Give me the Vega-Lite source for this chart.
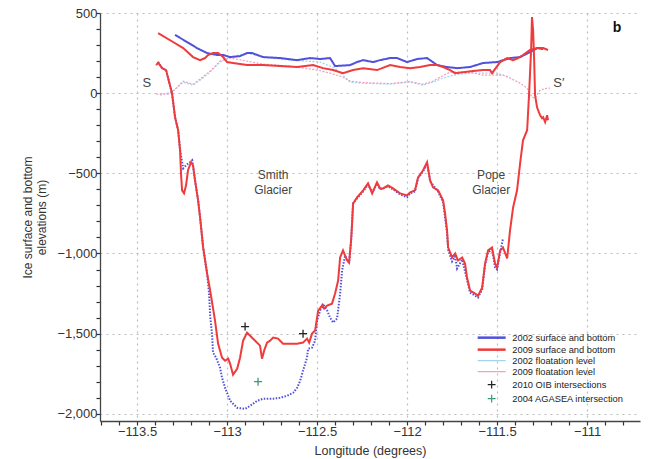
{
  "$schema": "https://vega.github.io/schema/vega-lite/v6.json",
  "width": 540,
  "height": 408,
  "autosize": {"type": "none"},
  "padding": {"left": 100, "top": 13, "right": 10, "bottom": 38},
  "background": "white",
  "config": {
    "font": "Liberation Sans",
    "view": {"stroke": null},
    "axis": {
      "domainColor": "#444",
      "domainWidth": 1.3,
      "tickColor": "#333",
      "tickWidth": 1.2,
      "gridColor": "#bdbdbd",
      "gridDash": [2, 4],
      "gridWidth": 1.2,
      "labelColor": "#333",
      "labelFontSize": 13,
      "titleColor": "#333",
      "titleFontWeight": "normal",
      "labelOverlap": false,
      "labelFlush": false
    }
  },
  "data": {
    "values": [
      {"series": "s09", "part": "bed", "lon": -113.394, "elev": 175},
      {"series": "s09", "part": "bed", "lon": -113.383, "elev": 190},
      {"series": "s09", "part": "bed", "lon": -113.361, "elev": 156},
      {"series": "s09", "part": "bed", "lon": -113.339, "elev": 144},
      {"series": "s09", "part": "bed", "lon": -113.322, "elev": 69},
      {"series": "s09", "part": "bed", "lon": -113.306, "elev": 0},
      {"series": "s09", "part": "bed", "lon": -113.289, "elev": -150},
      {"series": "s09", "part": "bed", "lon": -113.272, "elev": -231},
      {"series": "s09", "part": "bed", "lon": -113.261, "elev": -356},
      {"series": "s09", "part": "bed", "lon": -113.256, "elev": -500},
      {"series": "s09", "part": "bed", "lon": -113.25, "elev": -606},
      {"series": "s09", "part": "bed", "lon": -113.239, "elev": -625},
      {"series": "s09", "part": "bed", "lon": -113.228, "elev": -575},
      {"series": "s09", "part": "bed", "lon": -113.217, "elev": -481},
      {"series": "s09", "part": "bed", "lon": -113.2, "elev": -431},
      {"series": "s09", "part": "bed", "lon": -113.189, "elev": -450},
      {"series": "s09", "part": "bed", "lon": -113.178, "elev": -544},
      {"series": "s09", "part": "bed", "lon": -113.161, "elev": -669},
      {"series": "s09", "part": "bed", "lon": -113.15, "elev": -775},
      {"series": "s09", "part": "bed", "lon": -113.133, "elev": -962},
      {"series": "s09", "part": "bed", "lon": -113.111, "elev": -1125},
      {"series": "s09", "part": "bed", "lon": -113.094, "elev": -1231},
      {"series": "s09", "part": "bed", "lon": -113.067, "elev": -1419},
      {"series": "s09", "part": "bed", "lon": -113.05, "elev": -1562},
      {"series": "s09", "part": "bed", "lon": -113.028, "elev": -1650},
      {"series": "s09", "part": "bed", "lon": -113.011, "elev": -1669},
      {"series": "s09", "part": "bed", "lon": -112.994, "elev": -1656},
      {"series": "s09", "part": "bed", "lon": -112.983, "elev": -1688},
      {"series": "s09", "part": "bed", "lon": -112.967, "elev": -1756},
      {"series": "s09", "part": "bed", "lon": -112.944, "elev": -1719},
      {"series": "s09", "part": "bed", "lon": -112.928, "elev": -1650},
      {"series": "s09", "part": "bed", "lon": -112.911, "elev": -1544},
      {"series": "s09", "part": "bed", "lon": -112.889, "elev": -1494},
      {"series": "s09", "part": "bed", "lon": -112.872, "elev": -1513},
      {"series": "s09", "part": "bed", "lon": -112.844, "elev": -1544},
      {"series": "s09", "part": "bed", "lon": -112.817, "elev": -1575},
      {"series": "s09", "part": "bed", "lon": -112.806, "elev": -1656},
      {"series": "s09", "part": "bed", "lon": -112.794, "elev": -1606},
      {"series": "s09", "part": "bed", "lon": -112.778, "elev": -1556},
      {"series": "s09", "part": "bed", "lon": -112.761, "elev": -1544},
      {"series": "s09", "part": "bed", "lon": -112.744, "elev": -1525},
      {"series": "s09", "part": "bed", "lon": -112.717, "elev": -1531},
      {"series": "s09", "part": "bed", "lon": -112.689, "elev": -1563},
      {"series": "s09", "part": "bed", "lon": -112.65, "elev": -1563},
      {"series": "s09", "part": "bed", "lon": -112.611, "elev": -1563},
      {"series": "s09", "part": "bed", "lon": -112.578, "elev": -1556},
      {"series": "s09", "part": "bed", "lon": -112.556, "elev": -1531},
      {"series": "s09", "part": "bed", "lon": -112.544, "elev": -1556},
      {"series": "s09", "part": "bed", "lon": -112.528, "elev": -1500},
      {"series": "s09", "part": "bed", "lon": -112.511, "elev": -1481},
      {"series": "s09", "part": "bed", "lon": -112.5, "elev": -1400},
      {"series": "s09", "part": "bed", "lon": -112.494, "elev": -1356},
      {"series": "s09", "part": "bed", "lon": -112.472, "elev": -1325},
      {"series": "s09", "part": "bed", "lon": -112.461, "elev": -1344},
      {"series": "s09", "part": "bed", "lon": -112.444, "elev": -1325},
      {"series": "s09", "part": "bed", "lon": -112.417, "elev": -1313},
      {"series": "s09", "part": "bed", "lon": -112.4, "elev": -1250},
      {"series": "s09", "part": "bed", "lon": -112.383, "elev": -1169},
      {"series": "s09", "part": "bed", "lon": -112.372, "elev": -1025},
      {"series": "s09", "part": "bed", "lon": -112.356, "elev": -981},
      {"series": "s09", "part": "bed", "lon": -112.333, "elev": -1044},
      {"series": "s09", "part": "bed", "lon": -112.322, "elev": -1056},
      {"series": "s09", "part": "bed", "lon": -112.311, "elev": -919},
      {"series": "s09", "part": "bed", "lon": -112.306, "elev": -825},
      {"series": "s09", "part": "bed", "lon": -112.3, "elev": -688},
      {"series": "s09", "part": "bed", "lon": -112.278, "elev": -650},
      {"series": "s09", "part": "bed", "lon": -112.244, "elev": -606},
      {"series": "s09", "part": "bed", "lon": -112.217, "elev": -563},
      {"series": "s09", "part": "bed", "lon": -112.194, "elev": -625},
      {"series": "s09", "part": "bed", "lon": -112.167, "elev": -556},
      {"series": "s09", "part": "bed", "lon": -112.15, "elev": -594},
      {"series": "s09", "part": "bed", "lon": -112.133, "elev": -594},
      {"series": "s09", "part": "bed", "lon": -112.106, "elev": -575},
      {"series": "s09", "part": "bed", "lon": -112.078, "elev": -594},
      {"series": "s09", "part": "bed", "lon": -112.039, "elev": -625},
      {"series": "s09", "part": "bed", "lon": -112.0, "elev": -638},
      {"series": "s09", "part": "bed", "lon": -111.983, "elev": -619},
      {"series": "s09", "part": "bed", "lon": -111.956, "elev": -606},
      {"series": "s09", "part": "bed", "lon": -111.939, "elev": -525},
      {"series": "s09", "part": "bed", "lon": -111.911, "elev": -481},
      {"series": "s09", "part": "bed", "lon": -111.889, "elev": -431},
      {"series": "s09", "part": "bed", "lon": -111.872, "elev": -544},
      {"series": "s09", "part": "bed", "lon": -111.856, "elev": -588},
      {"series": "s09", "part": "bed", "lon": -111.828, "elev": -606},
      {"series": "s09", "part": "bed", "lon": -111.8, "elev": -669},
      {"series": "s09", "part": "bed", "lon": -111.789, "elev": -750},
      {"series": "s09", "part": "bed", "lon": -111.778, "elev": -856},
      {"series": "s09", "part": "bed", "lon": -111.772, "elev": -962},
      {"series": "s09", "part": "bed", "lon": -111.75, "elev": -1025},
      {"series": "s09", "part": "bed", "lon": -111.733, "elev": -1000},
      {"series": "s09", "part": "bed", "lon": -111.717, "elev": -1044},
      {"series": "s09", "part": "bed", "lon": -111.694, "elev": -1025},
      {"series": "s09", "part": "bed", "lon": -111.678, "elev": -1063},
      {"series": "s09", "part": "bed", "lon": -111.667, "elev": -1150},
      {"series": "s09", "part": "bed", "lon": -111.65, "elev": -1231},
      {"series": "s09", "part": "bed", "lon": -111.622, "elev": -1250},
      {"series": "s09", "part": "bed", "lon": -111.606, "elev": -1263},
      {"series": "s09", "part": "bed", "lon": -111.583, "elev": -1213},
      {"series": "s09", "part": "bed", "lon": -111.567, "elev": -1063},
      {"series": "s09", "part": "bed", "lon": -111.55, "elev": -981},
      {"series": "s09", "part": "bed", "lon": -111.528, "elev": -963},
      {"series": "s09", "part": "bed", "lon": -111.511, "elev": -1063},
      {"series": "s09", "part": "bed", "lon": -111.5, "elev": -1088},
      {"series": "s09", "part": "bed", "lon": -111.483, "elev": -981},
      {"series": "s09", "part": "bed", "lon": -111.467, "elev": -963},
      {"series": "s09", "part": "bed", "lon": -111.444, "elev": -1031},
      {"series": "s09", "part": "bed", "lon": -111.428, "elev": -856},
      {"series": "s09", "part": "bed", "lon": -111.411, "elev": -713},
      {"series": "s09", "part": "bed", "lon": -111.389, "elev": -606},
      {"series": "s09", "part": "bed", "lon": -111.372, "elev": -438},
      {"series": "s09", "part": "bed", "lon": -111.356, "elev": -294},
      {"series": "s09", "part": "bed", "lon": -111.333, "elev": -231},
      {"series": "s09", "part": "bed", "lon": -111.322, "elev": 0},
      {"series": "s09", "part": "bed", "lon": -111.311, "elev": 269},
      {"series": "s09", "part": "bed", "lon": -111.306, "elev": 475},
      {"series": "s09", "part": "bed", "lon": -111.3, "elev": 394},
      {"series": "s09", "part": "bed", "lon": -111.294, "elev": 206},
      {"series": "s09", "part": "bed", "lon": -111.289, "elev": -12},
      {"series": "s09", "part": "bed", "lon": -111.278, "elev": -88},
      {"series": "s09", "part": "bed", "lon": -111.261, "elev": -138},
      {"series": "s09", "part": "bed", "lon": -111.25, "elev": -156},
      {"series": "s09", "part": "bed", "lon": -111.244, "elev": -150},
      {"series": "s09", "part": "bed", "lon": -111.233, "elev": -181},
      {"series": "s09", "part": "bed", "lon": -111.222, "elev": -138},
      {"series": "s09", "part": "bed", "lon": -111.217, "elev": -169},

      {"series": "s02", "part": "bed", "lon": -113.383, "elev": 194},
      {"series": "s02", "part": "bed", "lon": -113.361, "elev": 156},
      {"series": "s02", "part": "bed", "lon": -113.339, "elev": 144},
      {"series": "s02", "part": "bed", "lon": -113.322, "elev": 69},
      {"series": "s02", "part": "bed", "lon": -113.306, "elev": 0},
      {"series": "s02", "part": "bed", "lon": -113.289, "elev": -150},
      {"series": "s02", "part": "bed", "lon": -113.272, "elev": -231},
      {"series": "s02", "part": "bed", "lon": -113.261, "elev": -356},
      {"series": "s02", "part": "bed", "lon": -113.244, "elev": -469},
      {"series": "s02", "part": "bed", "lon": -113.228, "elev": -450},
      {"series": "s02", "part": "bed", "lon": -113.206, "elev": -431},
      {"series": "s02", "part": "bed", "lon": -113.194, "elev": -419},
      {"series": "s02", "part": "bed", "lon": -113.178, "elev": -544},
      {"series": "s02", "part": "bed", "lon": -113.161, "elev": -669},
      {"series": "s02", "part": "bed", "lon": -113.15, "elev": -775},
      {"series": "s02", "part": "bed", "lon": -113.133, "elev": -962},
      {"series": "s02", "part": "bed", "lon": -113.111, "elev": -1125},
      {"series": "s02", "part": "bed", "lon": -113.1, "elev": -1250},
      {"series": "s02", "part": "bed", "lon": -113.094, "elev": -1388},
      {"series": "s02", "part": "bed", "lon": -113.083, "elev": -1513},
      {"series": "s02", "part": "bed", "lon": -113.078, "elev": -1619},
      {"series": "s02", "part": "bed", "lon": -113.061, "elev": -1650},
      {"series": "s02", "part": "bed", "lon": -113.039, "elev": -1713},
      {"series": "s02", "part": "bed", "lon": -113.028, "elev": -1775},
      {"series": "s02", "part": "bed", "lon": -113.011, "elev": -1838},
      {"series": "s02", "part": "bed", "lon": -112.983, "elev": -1919},
      {"series": "s02", "part": "bed", "lon": -112.944, "elev": -1963},
      {"series": "s02", "part": "bed", "lon": -112.9, "elev": -1969},
      {"series": "s02", "part": "bed", "lon": -112.872, "elev": -1950},
      {"series": "s02", "part": "bed", "lon": -112.833, "elev": -1919},
      {"series": "s02", "part": "bed", "lon": -112.8, "elev": -1906},
      {"series": "s02", "part": "bed", "lon": -112.744, "elev": -1906},
      {"series": "s02", "part": "bed", "lon": -112.706, "elev": -1900},
      {"series": "s02", "part": "bed", "lon": -112.667, "elev": -1888},
      {"series": "s02", "part": "bed", "lon": -112.633, "elev": -1869},
      {"series": "s02", "part": "bed", "lon": -112.611, "elev": -1838},
      {"series": "s02", "part": "bed", "lon": -112.594, "elev": -1794},
      {"series": "s02", "part": "bed", "lon": -112.578, "elev": -1731},
      {"series": "s02", "part": "bed", "lon": -112.556, "elev": -1650},
      {"series": "s02", "part": "bed", "lon": -112.55, "elev": -1594},
      {"series": "s02", "part": "bed", "lon": -112.528, "elev": -1588},
      {"series": "s02", "part": "bed", "lon": -112.511, "elev": -1544},
      {"series": "s02", "part": "bed", "lon": -112.5, "elev": -1419},
      {"series": "s02", "part": "bed", "lon": -112.483, "elev": -1356},
      {"series": "s02", "part": "bed", "lon": -112.467, "elev": -1313},
      {"series": "s02", "part": "bed", "lon": -112.444, "elev": -1356},
      {"series": "s02", "part": "bed", "lon": -112.428, "elev": -1400},
      {"series": "s02", "part": "bed", "lon": -112.411, "elev": -1431},
      {"series": "s02", "part": "bed", "lon": -112.389, "elev": -1406},
      {"series": "s02", "part": "bed", "lon": -112.372, "elev": -1250},
      {"series": "s02", "part": "bed", "lon": -112.361, "elev": -1106},
      {"series": "s02", "part": "bed", "lon": -112.344, "elev": -1013},
      {"series": "s02", "part": "bed", "lon": -112.333, "elev": -1044},
      {"series": "s02", "part": "bed", "lon": -112.322, "elev": -1056},
      {"series": "s02", "part": "bed", "lon": -112.311, "elev": -919},
      {"series": "s02", "part": "bed", "lon": -112.3, "elev": -688},
      {"series": "s02", "part": "bed", "lon": -112.278, "elev": -656},
      {"series": "s02", "part": "bed", "lon": -112.244, "elev": -613},
      {"series": "s02", "part": "bed", "lon": -112.217, "elev": -569},
      {"series": "s02", "part": "bed", "lon": -112.194, "elev": -619},
      {"series": "s02", "part": "bed", "lon": -112.167, "elev": -563},
      {"series": "s02", "part": "bed", "lon": -112.15, "elev": -600},
      {"series": "s02", "part": "bed", "lon": -112.106, "elev": -581},
      {"series": "s02", "part": "bed", "lon": -112.078, "elev": -600},
      {"series": "s02", "part": "bed", "lon": -112.039, "elev": -631},
      {"series": "s02", "part": "bed", "lon": -112.0, "elev": -650},
      {"series": "s02", "part": "bed", "lon": -111.983, "elev": -625},
      {"series": "s02", "part": "bed", "lon": -111.956, "elev": -613},
      {"series": "s02", "part": "bed", "lon": -111.939, "elev": -531},
      {"series": "s02", "part": "bed", "lon": -111.911, "elev": -488},
      {"series": "s02", "part": "bed", "lon": -111.889, "elev": -438},
      {"series": "s02", "part": "bed", "lon": -111.872, "elev": -550},
      {"series": "s02", "part": "bed", "lon": -111.828, "elev": -613},
      {"series": "s02", "part": "bed", "lon": -111.8, "elev": -681},
      {"series": "s02", "part": "bed", "lon": -111.778, "elev": -869},
      {"series": "s02", "part": "bed", "lon": -111.772, "elev": -975},
      {"series": "s02", "part": "bed", "lon": -111.75, "elev": -1050},
      {"series": "s02", "part": "bed", "lon": -111.733, "elev": -1019},
      {"series": "s02", "part": "bed", "lon": -111.722, "elev": -1094},
      {"series": "s02", "part": "bed", "lon": -111.694, "elev": -1038},
      {"series": "s02", "part": "bed", "lon": -111.667, "elev": -1163},
      {"series": "s02", "part": "bed", "lon": -111.65, "elev": -1244},
      {"series": "s02", "part": "bed", "lon": -111.606, "elev": -1275},
      {"series": "s02", "part": "bed", "lon": -111.583, "elev": -1225},
      {"series": "s02", "part": "bed", "lon": -111.567, "elev": -1075},
      {"series": "s02", "part": "bed", "lon": -111.55, "elev": -994},
      {"series": "s02", "part": "bed", "lon": -111.528, "elev": -975},
      {"series": "s02", "part": "bed", "lon": -111.511, "elev": -1088},
      {"series": "s02", "part": "bed", "lon": -111.5, "elev": -1100},
      {"series": "s02", "part": "bed", "lon": -111.483, "elev": -994},
      {"series": "s02", "part": "bed", "lon": -111.467, "elev": -906},

      {"series": "s09", "part": "surf", "lon": -113.383, "elev": 375},
      {"series": "s09", "part": "surf", "lon": -113.3, "elev": 319},
      {"series": "s09", "part": "surf", "lon": -113.244, "elev": 281},
      {"series": "s09", "part": "surf", "lon": -113.189, "elev": 225},
      {"series": "s09", "part": "surf", "lon": -113.15, "elev": 206},
      {"series": "s09", "part": "surf", "lon": -113.122, "elev": 219},
      {"series": "s09", "part": "surf", "lon": -113.106, "elev": 237},
      {"series": "s09", "part": "surf", "lon": -113.078, "elev": 250},
      {"series": "s09", "part": "surf", "lon": -113.05, "elev": 250},
      {"series": "s09", "part": "surf", "lon": -113.022, "elev": 225},
      {"series": "s09", "part": "surf", "lon": -113.0, "elev": 194},
      {"series": "s09", "part": "surf", "lon": -112.967, "elev": 188},
      {"series": "s09", "part": "surf", "lon": -112.889, "elev": 175},
      {"series": "s09", "part": "surf", "lon": -112.8, "elev": 175},
      {"series": "s09", "part": "surf", "lon": -112.706, "elev": 169},
      {"series": "s09", "part": "surf", "lon": -112.611, "elev": 163},
      {"series": "s09", "part": "surf", "lon": -112.522, "elev": 175},
      {"series": "s09", "part": "surf", "lon": -112.467, "elev": 156},
      {"series": "s09", "part": "surf", "lon": -112.411, "elev": 144},
      {"series": "s09", "part": "surf", "lon": -112.356, "elev": 125},
      {"series": "s09", "part": "surf", "lon": -112.3, "elev": 144},
      {"series": "s09", "part": "surf", "lon": -112.244, "elev": 156},
      {"series": "s09", "part": "surf", "lon": -112.167, "elev": 144},
      {"series": "s09", "part": "surf", "lon": -112.094, "elev": 175},
      {"series": "s09", "part": "surf", "lon": -112.039, "elev": 163},
      {"series": "s09", "part": "surf", "lon": -111.983, "elev": 156},
      {"series": "s09", "part": "surf", "lon": -111.928, "elev": 163},
      {"series": "s09", "part": "surf", "lon": -111.872, "elev": 175},
      {"series": "s09", "part": "surf", "lon": -111.833, "elev": 175},
      {"series": "s09", "part": "surf", "lon": -111.8, "elev": 163},
      {"series": "s09", "part": "surf", "lon": -111.761, "elev": 144},
      {"series": "s09", "part": "surf", "lon": -111.733, "elev": 125},
      {"series": "s09", "part": "surf", "lon": -111.689, "elev": 131},
      {"series": "s09", "part": "surf", "lon": -111.633, "elev": 138},
      {"series": "s09", "part": "surf", "lon": -111.578, "elev": 144},
      {"series": "s09", "part": "surf", "lon": -111.539, "elev": 144},
      {"series": "s09", "part": "surf", "lon": -111.528, "elev": 125},
      {"series": "s09", "part": "surf", "lon": -111.483, "elev": 194},
      {"series": "s09", "part": "surf", "lon": -111.444, "elev": 219},
      {"series": "s09", "part": "surf", "lon": -111.411, "elev": 206},
      {"series": "s09", "part": "surf", "lon": -111.383, "elev": 219},
      {"series": "s09", "part": "surf", "lon": -111.356, "elev": 238},
      {"series": "s09", "part": "surf", "lon": -111.317, "elev": 269},
      {"series": "s09", "part": "surf", "lon": -111.278, "elev": 281},
      {"series": "s09", "part": "surf", "lon": -111.244, "elev": 281},
      {"series": "s09", "part": "surf", "lon": -111.217, "elev": 269},

      {"series": "s02", "part": "surf", "lon": -113.289, "elev": 363},
      {"series": "s02", "part": "surf", "lon": -113.222, "elev": 319},
      {"series": "s02", "part": "surf", "lon": -113.167, "elev": 281},
      {"series": "s02", "part": "surf", "lon": -113.111, "elev": 250},
      {"series": "s02", "part": "surf", "lon": -113.056, "elev": 238},
      {"series": "s02", "part": "surf", "lon": -113.022, "elev": 238},
      {"series": "s02", "part": "surf", "lon": -112.983, "elev": 225},
      {"series": "s02", "part": "surf", "lon": -112.928, "elev": 231},
      {"series": "s02", "part": "surf", "lon": -112.889, "elev": 250},
      {"series": "s02", "part": "surf", "lon": -112.861, "elev": 250},
      {"series": "s02", "part": "surf", "lon": -112.8, "elev": 225},
      {"series": "s02", "part": "surf", "lon": -112.706, "elev": 219},
      {"series": "s02", "part": "surf", "lon": -112.611, "elev": 206},
      {"series": "s02", "part": "surf", "lon": -112.539, "elev": 219},
      {"series": "s02", "part": "surf", "lon": -112.483, "elev": 213},
      {"series": "s02", "part": "surf", "lon": -112.428, "elev": 219},
      {"series": "s02", "part": "surf", "lon": -112.4, "elev": 169},
      {"series": "s02", "part": "surf", "lon": -112.317, "elev": 175},
      {"series": "s02", "part": "surf", "lon": -112.278, "elev": 194},
      {"series": "s02", "part": "surf", "lon": -112.244, "elev": 206},
      {"series": "s02", "part": "surf", "lon": -112.189, "elev": 194},
      {"series": "s02", "part": "surf", "lon": -112.15, "elev": 206},
      {"series": "s02", "part": "surf", "lon": -112.094, "elev": 219},
      {"series": "s02", "part": "surf", "lon": -112.056, "elev": 219},
      {"series": "s02", "part": "surf", "lon": -112.0, "elev": 194},
      {"series": "s02", "part": "surf", "lon": -111.944, "elev": 213},
      {"series": "s02", "part": "surf", "lon": -111.889, "elev": 219},
      {"series": "s02", "part": "surf", "lon": -111.833, "elev": 175},
      {"series": "s02", "part": "surf", "lon": -111.778, "elev": 163},
      {"series": "s02", "part": "surf", "lon": -111.722, "elev": 156},
      {"series": "s02", "part": "surf", "lon": -111.65, "elev": 163},
      {"series": "s02", "part": "surf", "lon": -111.578, "elev": 188},
      {"series": "s02", "part": "surf", "lon": -111.5, "elev": 194},
      {"series": "s02", "part": "surf", "lon": -111.428, "elev": 219},
      {"series": "s02", "part": "surf", "lon": -111.372, "elev": 225},
      {"series": "s02", "part": "surf", "lon": -111.317, "elev": 256},
      {"series": "s02", "part": "surf", "lon": -111.278, "elev": 281},
      {"series": "s02", "part": "surf", "lon": -111.244, "elev": 275},

      {"series": "f02", "part": "surf", "lon": -113.372, "elev": -12},
      {"series": "f02", "part": "surf", "lon": -113.306, "elev": 6},
      {"series": "f02", "part": "surf", "lon": -113.244, "elev": 69},
      {"series": "f02", "part": "surf", "lon": -113.189, "elev": 50},
      {"series": "f02", "part": "surf", "lon": -113.15, "elev": 81},
      {"series": "f02", "part": "surf", "lon": -113.094, "elev": 131},
      {"series": "f02", "part": "surf", "lon": -113.039, "elev": 194},
      {"series": "f02", "part": "surf", "lon": -112.983, "elev": 225},
      {"series": "f02", "part": "surf", "lon": -112.889, "elev": 250},
      {"series": "f02", "part": "surf", "lon": -112.8, "elev": 225},
      {"series": "f02", "part": "surf", "lon": -112.65, "elev": 206},
      {"series": "f02", "part": "surf", "lon": -112.483, "elev": 194},
      {"series": "f02", "part": "surf", "lon": -112.4, "elev": 156},
      {"series": "f02", "part": "surf", "lon": -112.356, "elev": 112},
      {"series": "f02", "part": "surf", "lon": -112.317, "elev": 69},
      {"series": "f02", "part": "surf", "lon": -112.244, "elev": 62},
      {"series": "f02", "part": "surf", "lon": -112.094, "elev": 56},
      {"series": "f02", "part": "surf", "lon": -111.983, "elev": 69},
      {"series": "f02", "part": "surf", "lon": -111.911, "elev": 50},
      {"series": "f02", "part": "surf", "lon": -111.856, "elev": 69},
      {"series": "f02", "part": "surf", "lon": -111.8, "elev": 94},
      {"series": "f02", "part": "surf", "lon": -111.744, "elev": 112},
      {"series": "f02", "part": "surf", "lon": -111.65, "elev": 125},
      {"series": "f02", "part": "surf", "lon": -111.5, "elev": 125},
      {"series": "f02", "part": "surf", "lon": -111.467, "elev": 112},
      {"series": "f02", "part": "surf", "lon": -111.428, "elev": 100},

      {"series": "f09", "part": "surf", "lon": -113.394, "elev": -6},
      {"series": "f09", "part": "surf", "lon": -113.322, "elev": -6},
      {"series": "f09", "part": "surf", "lon": -113.283, "elev": 31},
      {"series": "f09", "part": "surf", "lon": -113.244, "elev": 75},
      {"series": "f09", "part": "surf", "lon": -113.189, "elev": 56},
      {"series": "f09", "part": "surf", "lon": -113.15, "elev": 88},
      {"series": "f09", "part": "surf", "lon": -113.094, "elev": 138},
      {"series": "f09", "part": "surf", "lon": -113.039, "elev": 200},
      {"series": "f09", "part": "surf", "lon": -112.983, "elev": 219},
      {"series": "f09", "part": "surf", "lon": -112.8, "elev": 181},
      {"series": "f09", "part": "surf", "lon": -112.65, "elev": 169},
      {"series": "f09", "part": "surf", "lon": -112.5, "elev": 144},
      {"series": "f09", "part": "surf", "lon": -112.428, "elev": 125},
      {"series": "f09", "part": "surf", "lon": -112.356, "elev": 100},
      {"series": "f09", "part": "surf", "lon": -112.317, "elev": 75},
      {"series": "f09", "part": "surf", "lon": -112.244, "elev": 66},
      {"series": "f09", "part": "surf", "lon": -112.094, "elev": 60},
      {"series": "f09", "part": "surf", "lon": -111.983, "elev": 72},
      {"series": "f09", "part": "surf", "lon": -111.911, "elev": 56},
      {"series": "f09", "part": "surf", "lon": -111.856, "elev": 75},
      {"series": "f09", "part": "surf", "lon": -111.8, "elev": 110},
      {"series": "f09", "part": "surf", "lon": -111.761, "elev": 131},
      {"series": "f09", "part": "surf", "lon": -111.65, "elev": 131},
      {"series": "f09", "part": "surf", "lon": -111.578, "elev": 112},
      {"series": "f09", "part": "surf", "lon": -111.467, "elev": 112},
      {"series": "f09", "part": "surf", "lon": -111.428, "elev": 94},
      {"series": "f09", "part": "surf", "lon": -111.372, "elev": 62},
      {"series": "f09", "part": "surf", "lon": -111.333, "elev": 31},
      {"series": "f09", "part": "surf", "lon": -111.306, "elev": -25},
      {"series": "f09", "part": "surf", "lon": -111.289, "elev": -31},
      {"series": "f09", "part": "surf", "lon": -111.261, "elev": 19},
      {"series": "f09", "part": "surf", "lon": -111.222, "elev": 31},
      {"series": "f09", "part": "surf", "lon": -111.206, "elev": 31},

      {"series": "oib", "part": "pt", "lon": -112.9, "elev": -1456},
      {"series": "oib", "part": "pt", "lon": -112.578, "elev": -1500},
      {"series": "aga", "part": "pt", "lon": -112.828, "elev": -1800}
    ]
  },
  "encoding": {
    "x": {
      "field": "lon",
      "type": "quantitative",
      "scale": {"domain": [-113.706, -110.706], "nice": false, "zero": false},
      "axis": {
        "title": "Longitude (degrees)",
        "titleFontSize": 12.5,
        "titlePadding": 6,
        "values": [-113.7, -113.6, -113.5, -113.4, -113.3, -113.2, -113.1, -113, -112.9, -112.8, -112.7, -112.6, -112.5, -112.4, -112.3, -112.2, -112.1, -112, -111.9, -111.8, -111.7, -111.6, -111.5, -111.4, -111.3, -111.2, -111.1, -111, -110.9, -110.8],
        "labelExpr": "abs(datum.value*2-round(datum.value*2)) < 0.01 ? format(datum.value, '~g') : ''",
        "gridOpacity": {"condition": {"test": "abs(datum.value*2-round(datum.value*2)) < 0.01", "value": 1}, "value": 0},
        "tickSize": 4,
        "labelPadding": 0
      }
    },
    "y": {
      "field": "elev",
      "type": "quantitative",
      "scale": {"domain": [-2045, 500], "nice": false, "zero": false},
      "axis": {
        "title": ["Ice surface and bottom", "elevations (m)"],
        "titleFontSize": 12,
        "titlePadding": 8,
        "values": [-2000, -1900, -1800, -1700, -1600, -1500, -1400, -1300, -1200, -1100, -1000, -900, -800, -700, -600, -500, -400, -300, -200, -100, 0, 100, 200, 300, 400, 500],
        "labelExpr": "datum.value % 500 == 0 ? format(datum.value, ',') : ''",
        "gridOpacity": {"condition": {"test": "datum.value % 500 == 0", "value": 1}, "value": 0},
        "tickSize": 4,
        "labelPadding": -1
      }
    }
  },
  "layer": [
    {
      "transform": [{"filter": "datum.series == 'f02'"}],
      "mark": {"type": "line", "strokeWidth": 1.2, "strokeDash": [2, 1.5]},
      "encoding": {
        "color": {
          "field": "series", "type": "nominal",
          "scale": {"domain": ["s02", "s09", "f02", "f09", "oib", "aga"], "range": ["#5050dd", "#ef3b3b", "#9fd3ef", "#f29cc0", "#222222", "#3a9a80"]},
          "legend": {
            "title": null, "orient": "bottom-right", "offset": 16,
            "labelFontSize": 9.3, "labelColor": "#222", "symbolSize": 784, "symbolType": "stroke",
            "rowPadding": 1, "labelOffset": 16,
            "labelExpr": "datum.value == 's02' ? '2002 surface and bottom' : datum.value == 's09' ? '2009 surface and bottom' : datum.value == 'f02' ? '2002 floatation level' : datum.value == 'f09' ? '2009 floatation level' : datum.value == 'oib' ? '2010 OIB intersections' : '2004 AGASEA intersection'",
            "encode": {"symbols": {"update": {
              "shape": {"signal": "datum.value == 'oib' || datum.value == 'aga' ? 'M-0.28,0H0.28M0,-0.28V0.28' : 'stroke'"},
              "strokeWidth": {"signal": "datum.value == 's02' || datum.value == 's09' ? 2.5 : 1.2"},
              "fill": {"value": "transparent"},
              "opacity": {"value": 1}
            }}}
          }
        }
      }
    },
    {
      "transform": [{"filter": "datum.series == 'f09'"}],
      "mark": {"type": "line", "strokeWidth": 1.2, "strokeDash": [2, 1.5]},
      "encoding": {
        "color": {"field": "series", "type": "nominal"}
      }
    },
    {
      "transform": [{"filter": "datum.series == 's02'"}],
      "mark": {"type": "line", "strokeWidth": 2},
      "encoding": {
        "color": {"field": "series", "type": "nominal"},
        "detail": {"field": "part"},
        "strokeDash": {"condition": {"test": "datum.part == 'bed'", "value": [1.5, 1.5]}, "value": [1, 0]}
      }
    },
    {
      "transform": [{"filter": "datum.series == 's09'"}],
      "mark": {"type": "line", "strokeWidth": 2},
      "encoding": {
        "color": {"field": "series", "type": "nominal"},
        "detail": {"field": "part"}
      }
    },
    {
      "transform": [{"filter": "datum.series == 'oib' || datum.series == 'aga'"}],
      "mark": {"type": "point", "shape": "M-1,0H1M0,-1V1", "size": 64, "filled": false, "strokeWidth": 1.3, "opacity": 1},
      "encoding": {
        "color": {"field": "series", "type": "nominal"}
      }
    },
    {
      "data": {"values": [
        {"label": "S", "lon": -113.442, "elev": 62},
        {"label": "S′", "lon": -111.16, "elev": 62}
      ]},
      "mark": {"type": "text", "fontSize": 13, "color": "#444", "align": "left", "baseline": "middle", "dx": -5},
      "encoding": {"text": {"field": "label"}}
    },
    {
      "data": {"values": [
        {"label": "Smith\nGlacier", "lon": -112.744, "elev": -509},
        {"label": "Pope\nGlacier", "lon": -111.533, "elev": -509}
      ]},
      "mark": {"type": "text", "fontSize": 12, "color": "#444", "align": "center", "baseline": "middle", "lineBreak": "\n", "lineHeight": 15},
      "encoding": {"text": {"field": "label"}}
    },
    {
      "data": {"values": [{"label": "b", "lon": -110.833, "elev": 406}]},
      "mark": {"type": "text", "fontSize": 14, "fontWeight": "bold", "color": "#111", "align": "center", "baseline": "middle"},
      "encoding": {"text": {"field": "label"}}
    }
  ]
}
